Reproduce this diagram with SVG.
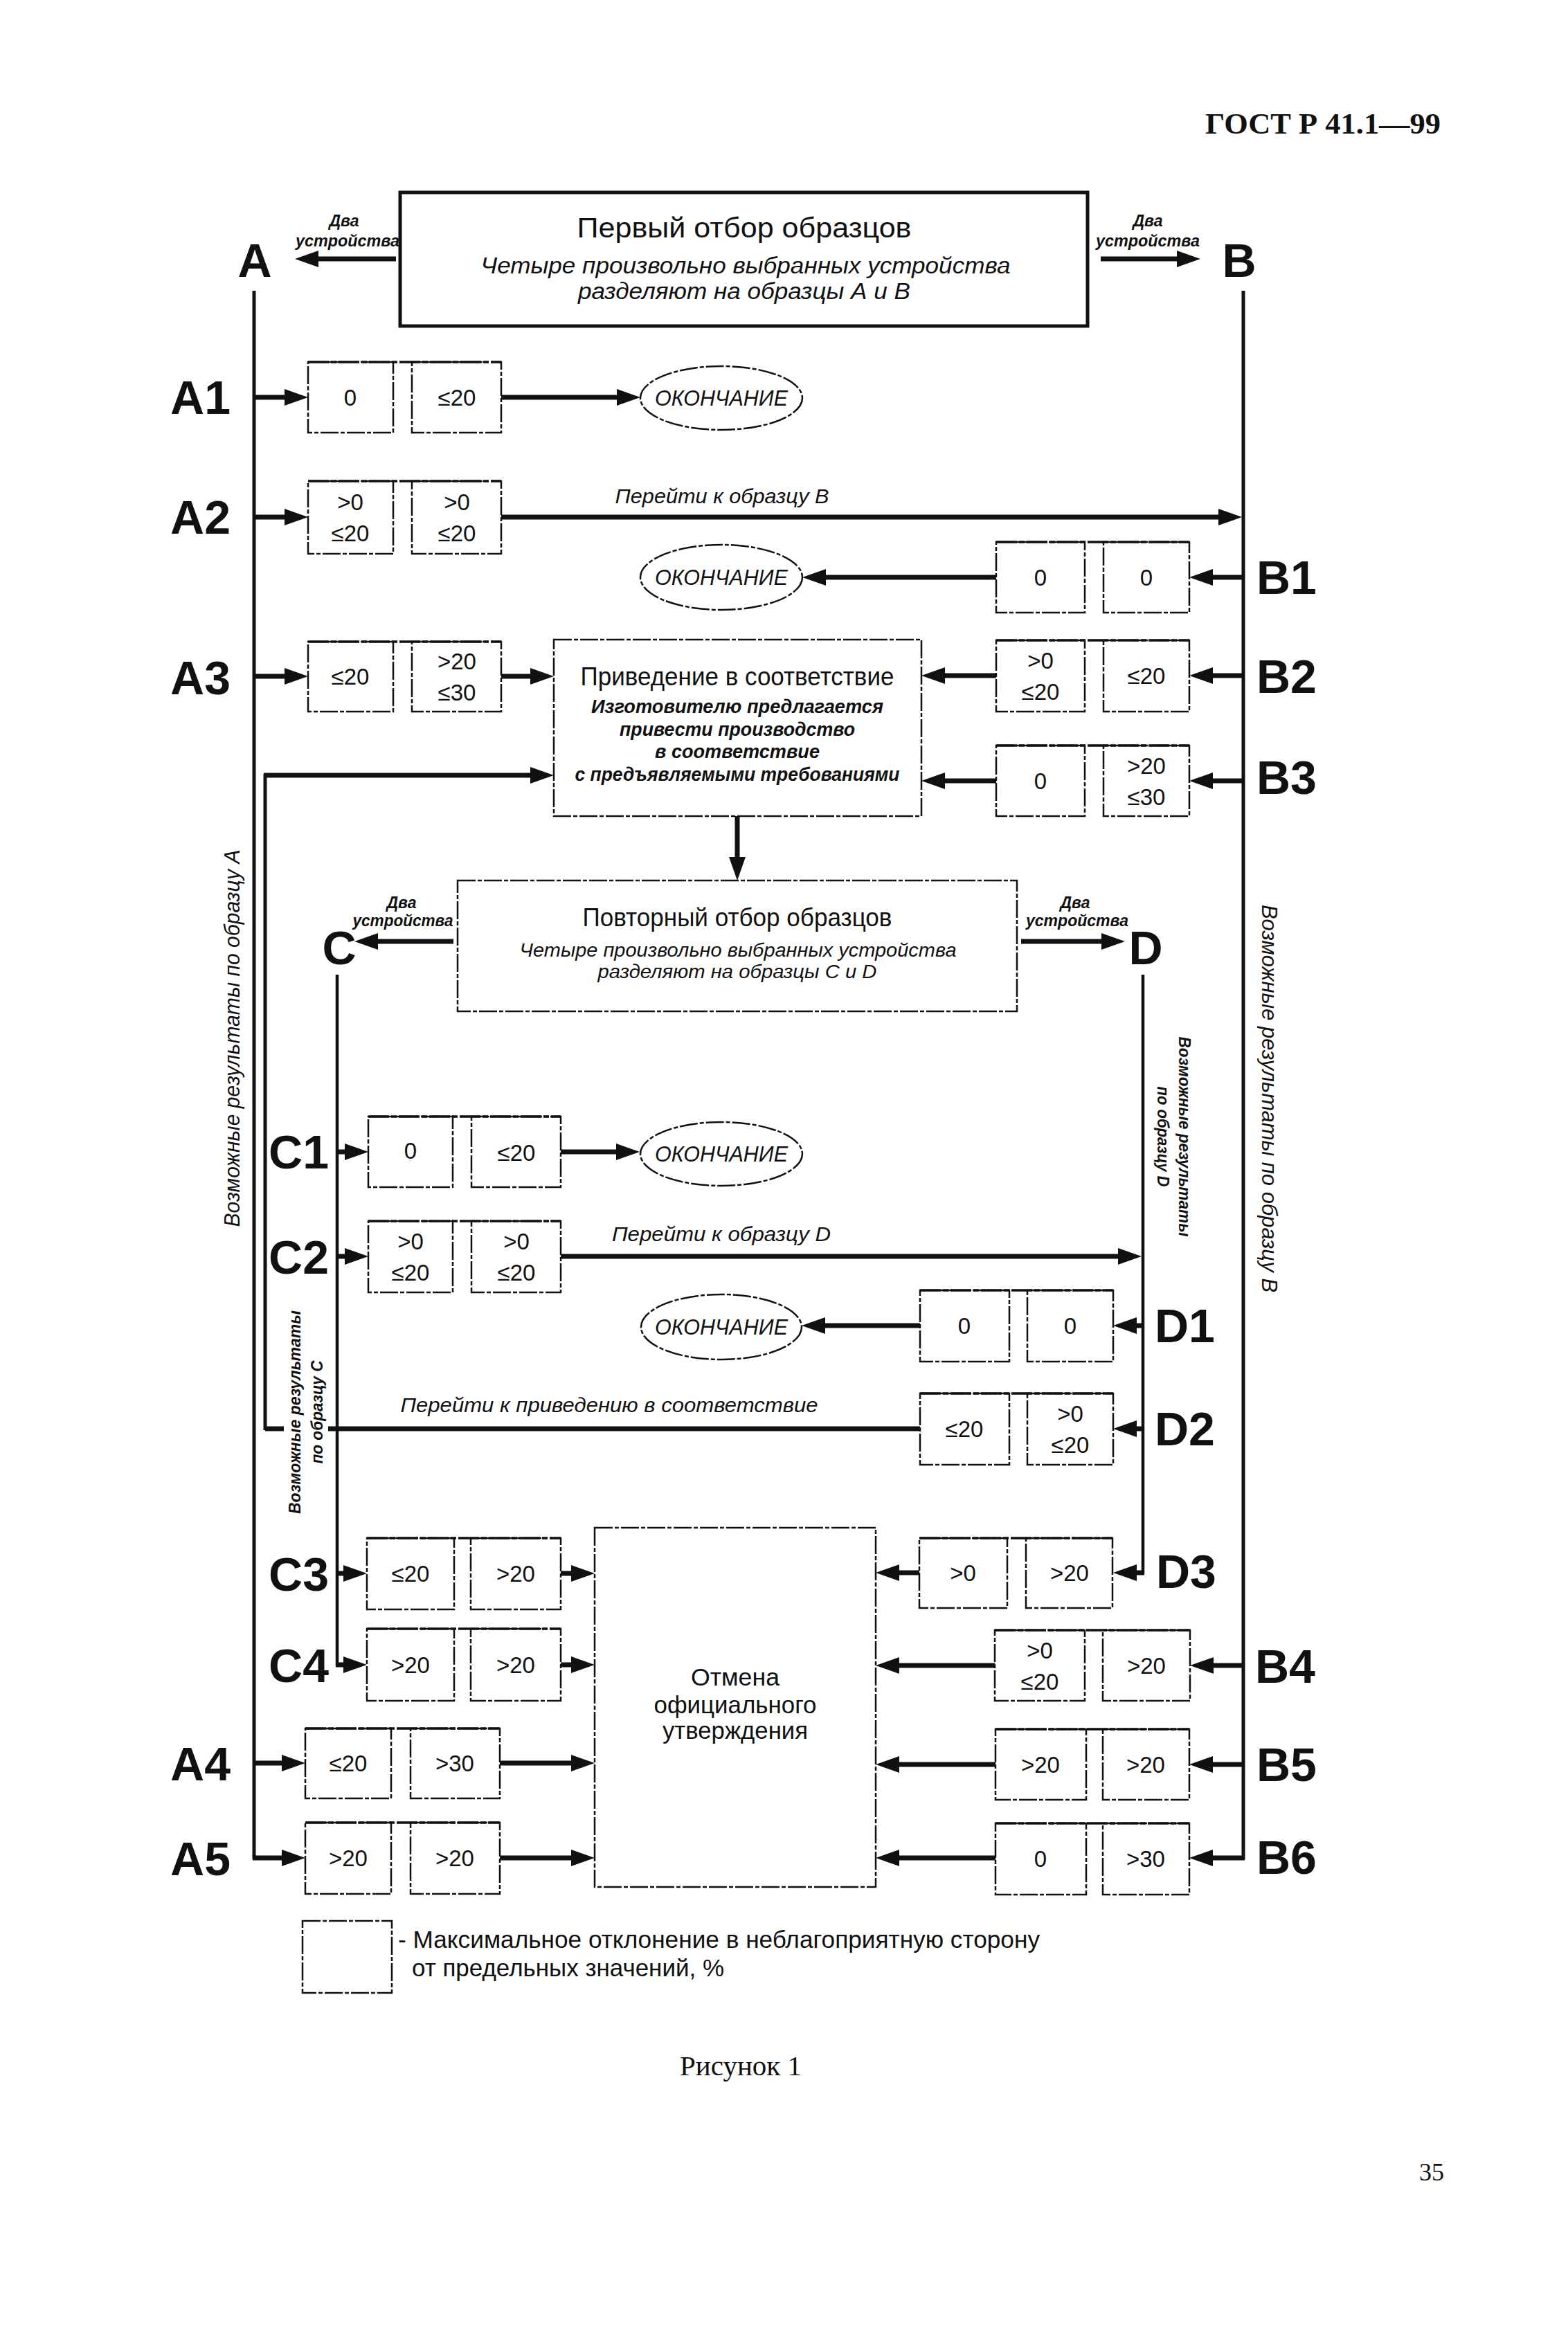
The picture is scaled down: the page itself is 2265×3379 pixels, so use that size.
<svg xmlns="http://www.w3.org/2000/svg" width="2265" height="3379" viewBox="0 0 2265 3379">
<style>
.sans{font-family:"Liberation Sans",Arial,sans-serif;fill:#111}
.serif{font-family:"Liberation Serif","Times New Roman",serif;fill:#111}
.lbl{font-family:"Liberation Sans",Arial,sans-serif;font-weight:bold;font-size:68px;fill:#111}
.val{font-family:"Liberation Sans",Arial,sans-serif;font-size:33px;text-anchor:middle;fill:#111}
.it{font-style:italic}
.b{font-weight:bold}
.mid{text-anchor:middle}
.vb{fill:none;stroke:#111;stroke-width:2.5;stroke-dasharray:26 3 6 3}
.top{stroke:#111;stroke-width:3.5;stroke-dasharray:30 3 8 3}
.ar{fill:none;stroke:#111;stroke-width:7;marker-end:url(#ah)}
.ln{fill:none;stroke:#111;stroke-width:5}
.thn{fill:none;stroke:#111;stroke-width:4.5}
.fb{fill:none;stroke:#111;stroke-width:7}
</style>
<defs>
<marker id="ah" markerUnits="userSpaceOnUse" markerWidth="40" markerHeight="30" refX="6" refY="12" orient="auto">
<path d="M0,0 L34,12 L0,24 Z" fill="#111"/>
</marker>
</defs>
<rect width="2265" height="3379" fill="#fff"/>

<text class="serif b" x="2081" y="193" text-anchor="end" font-size="43" textLength="340" lengthAdjust="spacingAndGlyphs">ГОСТ Р 41.1—99</text>

<g id="connectors">
<path class="ar" d="M572,374 H454"/>
<path class="ar" d="M1590,374 H1706"/>
<path class="ln" d="M367,420 V2686"/>
<path class="ln" d="M1796,420 V2686"/>
<path class="ar" d="M365,574 H417"/>
<path class="ar" d="M365,747 H417"/>
<path class="ar" d="M365,977 H417"/>
<path class="ar" d="M365,2547 H413"/>
<path class="ar" d="M365,2684 H413"/>
<path class="ar" d="M724,574 H897"/>
<path class="ar" d="M724,747 H1766"/>
<path class="ar" d="M724,977 H772"/>
<path class="ar" d="M722,2547 H831"/>
<path class="ar" d="M722,2684 H831"/>
<path class="ar" d="M1798,834 H1746"/>
<path class="ar" d="M1798,976 H1746"/>
<path class="ar" d="M1798,1128 H1746"/>
<path class="ar" d="M1798,2406 H1747"/>
<path class="ar" d="M1798,2549 H1746"/>
<path class="ar" d="M1798,2684 H1746"/>
<path class="ar" d="M1439,834 H1187"/>
<path class="ar" d="M1439,976 H1359"/>
<path class="ar" d="M1439,1128 H1359"/>
<path class="ar" d="M1437,2406 H1293"/>
<path class="ar" d="M1438,2549 H1293"/>
<path class="ar" d="M1438,2684 H1293"/>
<path class="ar" d="M1065,1179 V1244"/>
<path class="ar" d="M655,1360 H540"/>
<path class="ar" d="M1475,1360 H1597"/>
<path class="thn" d="M487,1408 V2407"/>
<path class="ar" d="M485,1664 H504"/>
<path class="ar" d="M485,1815 H504"/>
<path class="ar" d="M485,2273 H502"/>
<path class="ar" d="M485,2405 H502"/>
<path class="ar" d="M810,1664 H896"/>
<path class="ar" d="M810,1815 H1621"/>
<path class="ar" d="M810,2273 H831"/>
<path class="ar" d="M810,2405 H831"/>
<path class="thn" d="M1651,1408 V2274"/>
<path class="ar" d="M1653,1915 H1636"/>
<path class="ar" d="M1653,2064 H1636"/>
<path class="ar" d="M1653,2272 H1636"/>
<path class="ar" d="M1329,1915 H1186"/>
<path class="ar" d="M1328,2272 H1293"/>
<path class="fb" d="M1329,2064 H474"/>
<path class="fb" d="M410,2064 H383"/>
<path class="ln" d="M383,2066 V1118"/>
<path class="ar" d="M381,1120 H772"/>
</g>

<g id="first-sampling">
<rect x="578" y="278" width="993" height="193" fill="none" stroke="#111" stroke-width="5"/>
<text class="sans mid" x="1075" y="343" font-size="41" textLength="483" lengthAdjust="spacingAndGlyphs">Первый отбор образцов</text>
<text class="sans mid it" x="1077" y="395" font-size="33" textLength="765" lengthAdjust="spacingAndGlyphs">Четыре произвольно выбранных устройства</text>
<text class="sans mid it" x="1075" y="432" font-size="33" textLength="480" lengthAdjust="spacingAndGlyphs">разделяют на образцы А и В</text>
</g>
<g id="two-devices-a">
<text class="sans mid it b" x="497" y="327" font-size="23">Два</text>
<text class="sans mid it b" x="502" y="356" font-size="23" textLength="150" lengthAdjust="spacingAndGlyphs">устройства</text>
</g>
<g id="two-devices-b">
<text class="sans mid it b" x="1658" y="327" font-size="23">Два</text>
<text class="sans mid it b" x="1658" y="356" font-size="23" textLength="150" lengthAdjust="spacingAndGlyphs">устройства</text>
</g>
<g id="label-A"><text class="lbl mid" x="368" y="400">A</text></g>
<g id="label-B"><text class="lbl mid" x="1790" y="400">B</text></g>

<g id="row-A1">
<text class="lbl" x="333" y="598" text-anchor="end">A1</text>
<rect class="vb" x="445" y="523" width="123" height="102"/>
<rect class="vb" x="595" y="523" width="129" height="102"/>
<line class="top" x1="445" y1="523" x2="724" y2="523"/>
<text class="val" x="506" y="586">0</text>
<text class="val" x="660" y="586">≤20</text>
</g>
<g id="end-A1">
<ellipse class="vb" cx="1042" cy="575" rx="117" ry="46"/>
<text class="sans mid it" x="1042" y="586" font-size="31" textLength="192" lengthAdjust="spacingAndGlyphs">ОКОНЧАНИЕ</text>
</g>

<g id="row-A2">
<text class="lbl" x="333" y="771" text-anchor="end">A2</text>
<rect class="vb" x="445" y="695" width="123" height="105"/>
<rect class="vb" x="595" y="695" width="129" height="105"/>
<line class="top" x1="445" y1="695" x2="724" y2="695"/>
<text class="val" x="506" y="737">&gt;0</text>
<text class="val" x="506" y="782">≤20</text>
<text class="val" x="660" y="737">&gt;0</text>
<text class="val" x="660" y="782">≤20</text>
<text class="sans mid it" x="1043" y="727" font-size="30" textLength="309" lengthAdjust="spacingAndGlyphs">Перейти к образцу В</text>
</g>

<g id="row-B1">
<text class="lbl" x="1815" y="858">B1</text>
<rect class="vb" x="1439" y="783" width="128" height="102"/>
<rect class="vb" x="1594" y="783" width="124" height="102"/>
<line class="top" x1="1439" y1="783" x2="1718" y2="783"/>
<text class="val" x="1503" y="846">0</text>
<text class="val" x="1656" y="846">0</text>
</g>
<g id="end-B1">
<ellipse class="vb" cx="1042" cy="834" rx="117" ry="47"/>
<text class="sans mid it" x="1042" y="845" font-size="31" textLength="192" lengthAdjust="spacingAndGlyphs">ОКОНЧАНИЕ</text>
</g>

<g id="row-A3">
<text class="lbl" x="333" y="1003" text-anchor="end">A3</text>
<rect class="vb" x="445" y="927" width="123" height="101"/>
<rect class="vb" x="595" y="927" width="129" height="101"/>
<line class="top" x1="445" y1="927" x2="724" y2="927"/>
<text class="val" x="506" y="989">≤20</text>
<text class="val" x="660" y="967">&gt;20</text>
<text class="val" x="660" y="1012">≤30</text>
</g>

<g id="conformity">
<rect class="vb" x="800" y="924" width="531" height="255"/>
<text class="sans mid" x="1065" y="990" font-size="36" textLength="453" lengthAdjust="spacingAndGlyphs">Приведение в соответствие</text>
<text class="sans mid it b" x="1065" y="1030" font-size="28" textLength="422" lengthAdjust="spacingAndGlyphs">Изготовителю предлагается</text>
<text class="sans mid it b" x="1065" y="1063" font-size="28" textLength="340" lengthAdjust="spacingAndGlyphs">привести производство</text>
<text class="sans mid it b" x="1065" y="1095" font-size="28" textLength="238" lengthAdjust="spacingAndGlyphs">в соответствие</text>
<text class="sans mid it b" x="1065" y="1128" font-size="28" textLength="469" lengthAdjust="spacingAndGlyphs">с предъявляемыми требованиями</text>
</g>

<g id="row-B2">
<text class="lbl" x="1815" y="1001">B2</text>
<rect class="vb" x="1439" y="925" width="128" height="103"/>
<rect class="vb" x="1594" y="925" width="124" height="103"/>
<line class="top" x1="1439" y1="925" x2="1718" y2="925"/>
<text class="val" x="1503" y="966">&gt;0</text>
<text class="val" x="1503" y="1011">≤20</text>
<text class="val" x="1656" y="988">≤20</text>
</g>

<g id="row-B3">
<text class="lbl" x="1815" y="1147">B3</text>
<rect class="vb" x="1439" y="1077" width="128" height="102"/>
<rect class="vb" x="1594" y="1077" width="124" height="102"/>
<line class="top" x1="1439" y1="1077" x2="1718" y2="1077"/>
<text class="val" x="1503" y="1140">0</text>
<text class="val" x="1656" y="1118">&gt;20</text>
<text class="val" x="1656" y="1163">≤30</text>
</g>

<g id="repeat-sampling">
<rect class="vb" x="661" y="1272" width="808" height="189"/>
<text class="sans mid" x="1065" y="1338" font-size="37" textLength="447" lengthAdjust="spacingAndGlyphs">Повторный отбор образцов</text>
<text class="sans mid it" x="1066" y="1382" font-size="28" textLength="631" lengthAdjust="spacingAndGlyphs">Четыре произвольно выбранных устройства</text>
<text class="sans mid it" x="1065" y="1413" font-size="28" textLength="403" lengthAdjust="spacingAndGlyphs">разделяют на образцы С и D</text>
</g>
<g id="two-devices-c">
<text class="sans mid it b" x="580" y="1312" font-size="23">Два</text>
<text class="sans mid it b" x="582" y="1338" font-size="23" textLength="145" lengthAdjust="spacingAndGlyphs">устройства</text>
</g>
<g id="two-devices-d">
<text class="sans mid it b" x="1553" y="1312" font-size="23">Два</text>
<text class="sans mid it b" x="1556" y="1338" font-size="23" textLength="148" lengthAdjust="spacingAndGlyphs">устройства</text>
</g>
<g id="label-C"><text class="lbl mid" x="490" y="1393">C</text></g>
<g id="label-D"><text class="lbl mid" x="1655" y="1393">D</text></g>

<g id="row-C1">
<text class="lbl" x="475" y="1688" text-anchor="end">C1</text>
<rect class="vb" x="532" y="1613" width="122" height="102"/>
<rect class="vb" x="681" y="1613" width="129" height="102"/>
<line class="top" x1="532" y1="1613" x2="810" y2="1613"/>
<text class="val" x="593" y="1674">0</text>
<text class="val" x="746" y="1677">≤20</text>
</g>
<g id="end-C1">
<ellipse class="vb" cx="1042" cy="1667" rx="117" ry="46"/>
<text class="sans mid it" x="1042" y="1678" font-size="31" textLength="192" lengthAdjust="spacingAndGlyphs">ОКОНЧАНИЕ</text>
</g>

<g id="row-C2">
<text class="lbl" x="475" y="1840" text-anchor="end">C2</text>
<rect class="vb" x="532" y="1764" width="122" height="103"/>
<rect class="vb" x="681" y="1764" width="129" height="103"/>
<line class="top" x1="532" y1="1764" x2="810" y2="1764"/>
<text class="val" x="593" y="1805">&gt;0</text>
<text class="val" x="593" y="1850">≤20</text>
<text class="val" x="746" y="1805">&gt;0</text>
<text class="val" x="746" y="1850">≤20</text>
<text class="sans mid it" x="1042" y="1793" font-size="30" textLength="316" lengthAdjust="spacingAndGlyphs">Перейти к образцу D</text>
</g>

<g id="row-D1">
<text class="lbl" x="1668" y="1939">D1</text>
<rect class="vb" x="1329" y="1864" width="129" height="103"/>
<rect class="vb" x="1484" y="1864" width="124" height="103"/>
<line class="top" x1="1329" y1="1864" x2="1608" y2="1864"/>
<text class="val" x="1393" y="1927">0</text>
<text class="val" x="1546" y="1927">0</text>
</g>
<g id="end-D1">
<ellipse class="vb" cx="1042" cy="1917" rx="116" ry="47"/>
<text class="sans mid it" x="1042" y="1928" font-size="31" textLength="192" lengthAdjust="spacingAndGlyphs">ОКОНЧАНИЕ</text>
</g>

<g id="row-D2">
<text class="lbl" x="1668" y="2088">D2</text>
<rect class="vb" x="1329" y="2013" width="129" height="103"/>
<rect class="vb" x="1484" y="2013" width="124" height="103"/>
<line class="top" x1="1329" y1="2013" x2="1608" y2="2013"/>
<text class="val" x="1393" y="2076">≤20</text>
<text class="val" x="1546" y="2054">&gt;0</text>
<text class="val" x="1546" y="2099">≤20</text>
<text class="sans mid it" x="880" y="2040" font-size="30" textLength="603" lengthAdjust="spacingAndGlyphs">Перейти к приведению в соответствие</text>
</g>

<g id="cancel">
<rect class="vb" x="859" y="2207" width="406" height="519"/>
<text class="sans mid" x="1062" y="2435" font-size="35" textLength="128" lengthAdjust="spacingAndGlyphs">Отмена</text>
<text class="sans mid" x="1062" y="2475" font-size="35" textLength="235" lengthAdjust="spacingAndGlyphs">официального</text>
<text class="sans mid" x="1062" y="2512" font-size="35" textLength="210" lengthAdjust="spacingAndGlyphs">утверждения</text>
</g>

<g id="row-C3">
<text class="lbl" x="475" y="2298" text-anchor="end">C3</text>
<rect class="vb" x="530" y="2222" width="126" height="103"/>
<rect class="vb" x="680" y="2222" width="130" height="103"/>
<line class="top" x1="530" y1="2222" x2="810" y2="2222"/>
<text class="val" x="593" y="2285">≤20</text>
<text class="val" x="745" y="2285">&gt;20</text>
</g>

<g id="row-D3">
<text class="lbl" x="1670" y="2294">D3</text>
<rect class="vb" x="1328" y="2222" width="127" height="101"/>
<rect class="vb" x="1482" y="2222" width="125" height="101"/>
<line class="top" x1="1328" y1="2222" x2="1607" y2="2222"/>
<text class="val" x="1391" y="2284">&gt;0</text>
<text class="val" x="1545" y="2284">&gt;20</text>
</g>

<g id="row-C4">
<text class="lbl" x="475" y="2430" text-anchor="end">C4</text>
<rect class="vb" x="530" y="2353" width="126" height="104"/>
<rect class="vb" x="680" y="2353" width="130" height="104"/>
<line class="top" x1="530" y1="2353" x2="810" y2="2353"/>
<text class="val" x="593" y="2417">&gt;20</text>
<text class="val" x="745" y="2417">&gt;20</text>
</g>

<g id="row-B4">
<text class="lbl" x="1813" y="2431">B4</text>
<rect class="vb" x="1437" y="2355" width="130" height="102"/>
<rect class="vb" x="1593" y="2355" width="126" height="102"/>
<line class="top" x1="1437" y1="2355" x2="1719" y2="2355"/>
<text class="val" x="1502" y="2396">&gt;0</text>
<text class="val" x="1502" y="2441">≤20</text>
<text class="val" x="1656" y="2418">&gt;20</text>
</g>

<g id="row-A4">
<text class="lbl" x="333" y="2572" text-anchor="end">A4</text>
<rect class="vb" x="441" y="2497" width="124" height="101"/>
<rect class="vb" x="593" y="2497" width="129" height="101"/>
<line class="top" x1="441" y1="2497" x2="722" y2="2497"/>
<text class="val" x="503" y="2559">≤20</text>
<text class="val" x="657" y="2559">&gt;30</text>
</g>

<g id="row-B5">
<text class="lbl" x="1815" y="2573">B5</text>
<rect class="vb" x="1438" y="2498" width="131" height="102"/>
<rect class="vb" x="1593" y="2498" width="125" height="102"/>
<line class="top" x1="1438" y1="2498" x2="1718" y2="2498"/>
<text class="val" x="1503" y="2561">&gt;20</text>
<text class="val" x="1655" y="2561">&gt;20</text>
</g>

<g id="row-A5">
<text class="lbl" x="333" y="2709" text-anchor="end">A5</text>
<rect class="vb" x="441" y="2633" width="124" height="103"/>
<rect class="vb" x="593" y="2633" width="129" height="103"/>
<line class="top" x1="441" y1="2633" x2="722" y2="2633"/>
<text class="val" x="503" y="2696">&gt;20</text>
<text class="val" x="657" y="2696">&gt;20</text>
</g>

<g id="row-B6">
<text class="lbl" x="1815" y="2707">B6</text>
<rect class="vb" x="1438" y="2634" width="131" height="103"/>
<rect class="vb" x="1593" y="2634" width="125" height="103"/>
<line class="top" x1="1438" y1="2634" x2="1718" y2="2634"/>
<text class="val" x="1503" y="2697">0</text>
<text class="val" x="1655" y="2697">&gt;30</text>
</g>

<g id="side-labels">
<text class="sans mid it" transform="translate(346,1500) rotate(-90)" font-size="31" textLength="545" lengthAdjust="spacingAndGlyphs">Возможные результаты по образцу А</text>
<text class="sans mid it" transform="translate(1823,1587) rotate(90)" font-size="31" textLength="560" lengthAdjust="spacingAndGlyphs">Возможные результаты по образцу B</text>
<text class="sans mid it b" transform="translate(1703,1642) rotate(90)" font-size="23" textLength="289" lengthAdjust="spacingAndGlyphs">Возможные результаты</text>
<text class="sans mid it b" transform="translate(1672,1642) rotate(90)" font-size="23" textLength="145" lengthAdjust="spacingAndGlyphs">по образцу D</text>
<text class="sans mid it b" transform="translate(434,2040) rotate(-90)" font-size="23" textLength="294" lengthAdjust="spacingAndGlyphs">Возможные результаты</text>
<text class="sans mid it b" transform="translate(466,2040) rotate(-90)" font-size="23" textLength="149" lengthAdjust="spacingAndGlyphs">по образцу С</text>
</g>

<g id="legend">
<rect class="vb" x="437" y="2775" width="129" height="104"/>
<text class="sans" x="575" y="2814" font-size="35" textLength="927" lengthAdjust="spacingAndGlyphs">- Максимальное отклонение в неблагоприятную сторону</text>
<text class="sans" x="595" y="2855" font-size="35" textLength="451" lengthAdjust="spacingAndGlyphs">от предельных значений, %</text>
</g>

<text class="serif mid" x="1070" y="2998" font-size="40" textLength="176" lengthAdjust="spacingAndGlyphs">Рисунок 1</text>
<text class="serif mid" x="2068" y="3150" font-size="36">35</text>
</svg>
